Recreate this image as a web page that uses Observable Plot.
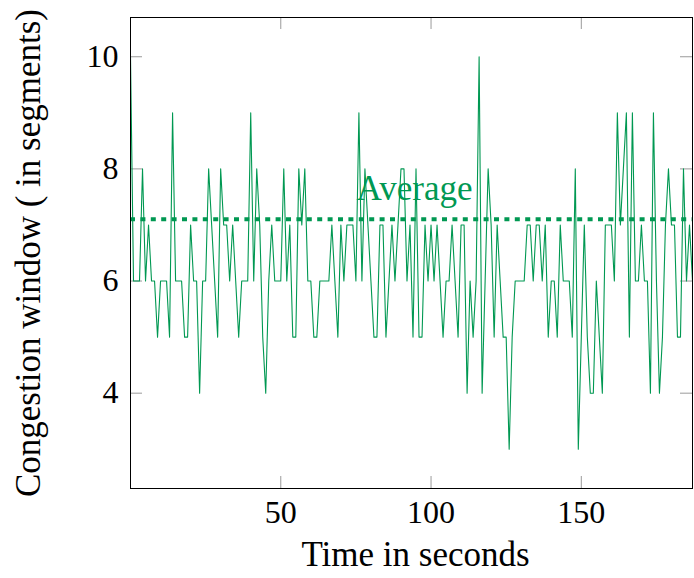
<!DOCTYPE html>
<html>
<head>
<meta charset="utf-8">
<script src="https://cdn.jsdelivr.net/npm/d3@7"></script>
<script src="https://cdn.jsdelivr.net/npm/@observablehq/plot@0.6"></script>
<style>
  html, body { margin: 0; padding: 0; background: #fff; }
</style>
</head>
<body>
<div id="chart"></div>
<script>
// ---- data ----
const congestionWindow = [
  10, 6, 6, 6, 8, 6, 7, 6, 6, 5,
  6, 6, 6, 5, 9, 6, 6, 6, 5, 5,
  7, 6, 6, 4, 6, 6, 8, 7, 6, 5,
  8, 7, 7, 6, 7, 6, 5, 6, 6, 6,
  9, 6, 8, 7, 5, 4, 6, 7, 6, 6,
  6, 8, 6, 7, 5, 5, 8, 7, 8, 6,
  6, 5, 5, 6, 6, 6, 6, 7, 6, 5,
  7, 6, 7, 7, 7, 6, 9, 6, 8, 7,
  6, 5, 5, 7, 7, 5, 6, 7, 6, 7,
  8, 8, 6, 7, 5, 8, 5, 5, 7, 6,
  7, 6, 7, 6, 5, 6, 6, 7, 6, 5,
  7, 7, 4, 6, 5, 6, 10, 4, 6, 8,
  7, 5, 7, 6, 5, 5, 3, 5, 6, 6,
  6, 6, 7, 7, 6, 7, 7, 6, 7, 5,
  6, 6, 5, 7, 6, 6, 6, 5, 8, 3,
  5, 7, 5, 4, 4, 6, 5, 4, 7, 7,
  7, 6, 9, 7, 8, 9, 5, 9, 6, 6,
  7, 6, 6, 4, 9, 6, 4, 5, 7, 8,
  7, 7, 5, 5, 8, 6, 7, 6
];
const averageWindow = 7.1;
const averageLabel = ["Average"];
const xTicks = [50, 100, 150];
const yTicks = [4, 6, 8, 10];
const xDomain = [0, 187];
const yDomain = [2.3, 10.7];
const xTitle = "Time in seconds";
const yTitle = "Congestion window ( in segments)";

// ---- layout / style ----
const W = 694, H = 578;
const mL = 130, mR = 2, mT = 17, mB = 90;
const innerW = W - mL - mR, innerH = H - mT - mB;
const green = "rgb(0,152,82)";
const font = "'Liberation Serif', 'DejaVu Serif', serif";
const tickLen = 12;

const series = congestionWindow.map((v, i) => ({t: i, w: v}));

const chart = Plot.plot({
  width: W,
  height: H,
  marginLeft: mL,
  marginRight: mR,
  marginTop: mT,
  marginBottom: mB,
  style: {fontFamily: font, fontSize: "30px", background: "#fff", color: "#000"},
  x: {domain: xDomain, ticks: xTicks},
  y: {domain: yDomain, ticks: yTicks},
  marks: [
    // inward ticks on all four sides
    Plot.tickY(yTicks, {y: d => d, stroke: "#9a9a9a", strokeWidth: 1, insetRight: innerW - tickLen}),
    Plot.tickY(yTicks, {y: d => d, stroke: "#9a9a9a", strokeWidth: 1, insetLeft: innerW - tickLen}),
    Plot.tickX(xTicks, {x: d => d, stroke: "#9a9a9a", strokeWidth: 1, insetTop: innerH - tickLen}),
    Plot.tickX(xTicks, {x: d => d, stroke: "#9a9a9a", strokeWidth: 1, insetBottom: innerH - tickLen}),
    // average
    Plot.ruleY([averageWindow], {y: d => d, stroke: green, strokeWidth: 4, strokeDasharray: "5,5.4"}),
    // series
    Plot.line(series, {x: "t", y: "w", stroke: green, strokeWidth: 1.1, clip: true}),
    Plot.text(averageLabel, {
      x: () => (xDomain[0] + xDomain[1]) / 2, y: () => averageWindow,
      text: d => d, fill: green, fontSize: 35, fontFamily: font, dx: 3, dy: -31
    }),
    Plot.frame({stroke: "#000", strokeWidth: 1}),
    Plot.axisX(xTicks, {anchor: "bottom", tickSize: 0, tickPadding: 12, label: null, tickFormat: d3.format("d"), fontSize: 32, fontFamily: font, fill: "#000"}),
    Plot.axisY(yTicks, {anchor: "left", tickSize: 0, tickPadding: 12, label: null, tickFormat: d3.format("d"), fontSize: 32, fontFamily: font, fill: "#000"}),
    Plot.text([xTitle], {frameAnchor: "bottom", text: d => d, textAnchor: "middle", dx: 4, dy: 77, fontSize: 35, fontFamily: font, fill: "#000"}),
    Plot.text([yTitle], {frameAnchor: "left", text: d => d, textAnchor: "middle", rotate: -90, dx: -102, fontSize: 35, fontFamily: font, fill: "#000"})
  ]
});
document.getElementById("chart").appendChild(chart);
</script>
</body>
</html>
